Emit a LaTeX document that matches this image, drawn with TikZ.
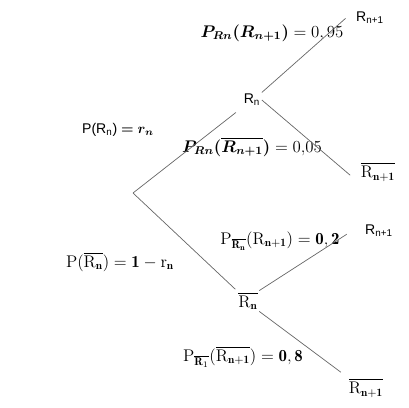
\documentclass[tikz,border=0pt]{standalone}
\usepackage{amsmath,bm}
\usepackage{fontspec}
\setsansfont{Liberation Sans}
\usetikzlibrary{positioning}

\begin{document}
\begin{tikzpicture}[
    x=0.025cm,
    y=-0.025cm,
    font=\sffamily,
    branch/.style={
        draw=black!60,
        line width=0.5pt
    },
    event/.style={inner sep=1pt, font=\sffamily},
    eventbar/.style={inner sep=1pt, font=\large},
    prob/.style={inner sep=0pt, font=\large}
]
\useasboundingbox (0,0) rectangle (409,408);

\coordinate (root) at (133,193);
\node[event] (Rn) at (252,100) {R\textsubscript{n}};
\node[eventbar] (Rnbar) at (248,301) {$\overline{\mathrm{R}_{\mathbf{n}}}$};
\node[event] (RnA) at (370,18) {R\textsubscript{n+1}};
\node[eventbar] (RnB) at (378,172) {$\overline{\mathrm{R}_{\mathbf{n+1}}}$};
\node[event] (RnC) at (379,231) {R\textsubscript{n+1}};
\node[eventbar] (RnD) at (366,388) {$\overline{\mathrm{R}_{\mathbf{n+1}}}$};

% probabilities
\node[prob] (pA) at (272,33) {$\bm{P_{Rn}(R_{n+1})} = 0,95$};
\node[prob] (pB) at (252,147) {$\bm{P_{Rn}(\overline{R_{n+1}})} = 0{,}05$};
\node[prob, font=\sffamily] (pRn) at (118,130) {P(R\textsubscript{n}) $\bm{=r_n}$};
\node[prob] (pRnbar) at (120,262) {$\mathrm{P}(\overline{\mathrm{R}_{\mathbf{n}}}) = \mathbf{1} - \mathrm{r}_{\mathbf{n}}$};
\node[prob] (pC) at (280,241) {$\mathrm{P}_{\overline{\mathbf{R_n}}}(\mathrm{R}_{\mathbf{n+1}}) = \mathbf{0,2}$};
\node[prob] (pD) at (243,357) {$\mathrm{P}_{\overline{\mathbf{R}_1}}(\overline{\mathrm{R}_{\mathbf{n+1}}}) = \mathbf{0},\mathbf{8}$};

\draw[branch, shorten >=0.2cm] (root) -- (Rn.south west);
\draw[branch, shorten >=0.05cm] (root) -- (Rnbar.north west);
\draw[branch, shorten >=0.3cm] (Rn.north east) -- (RnA.north west);
\draw[branch, shorten >=0.3cm] (Rn.east) -- (RnB.south west);
\draw[branch, shorten >=0.5cm] (Rnbar.north east) -- (RnC.north west);
\draw[branch, shorten >=0.2cm] (Rnbar.south east) -- (RnD.north west);

\end{tikzpicture}
\end{document}
